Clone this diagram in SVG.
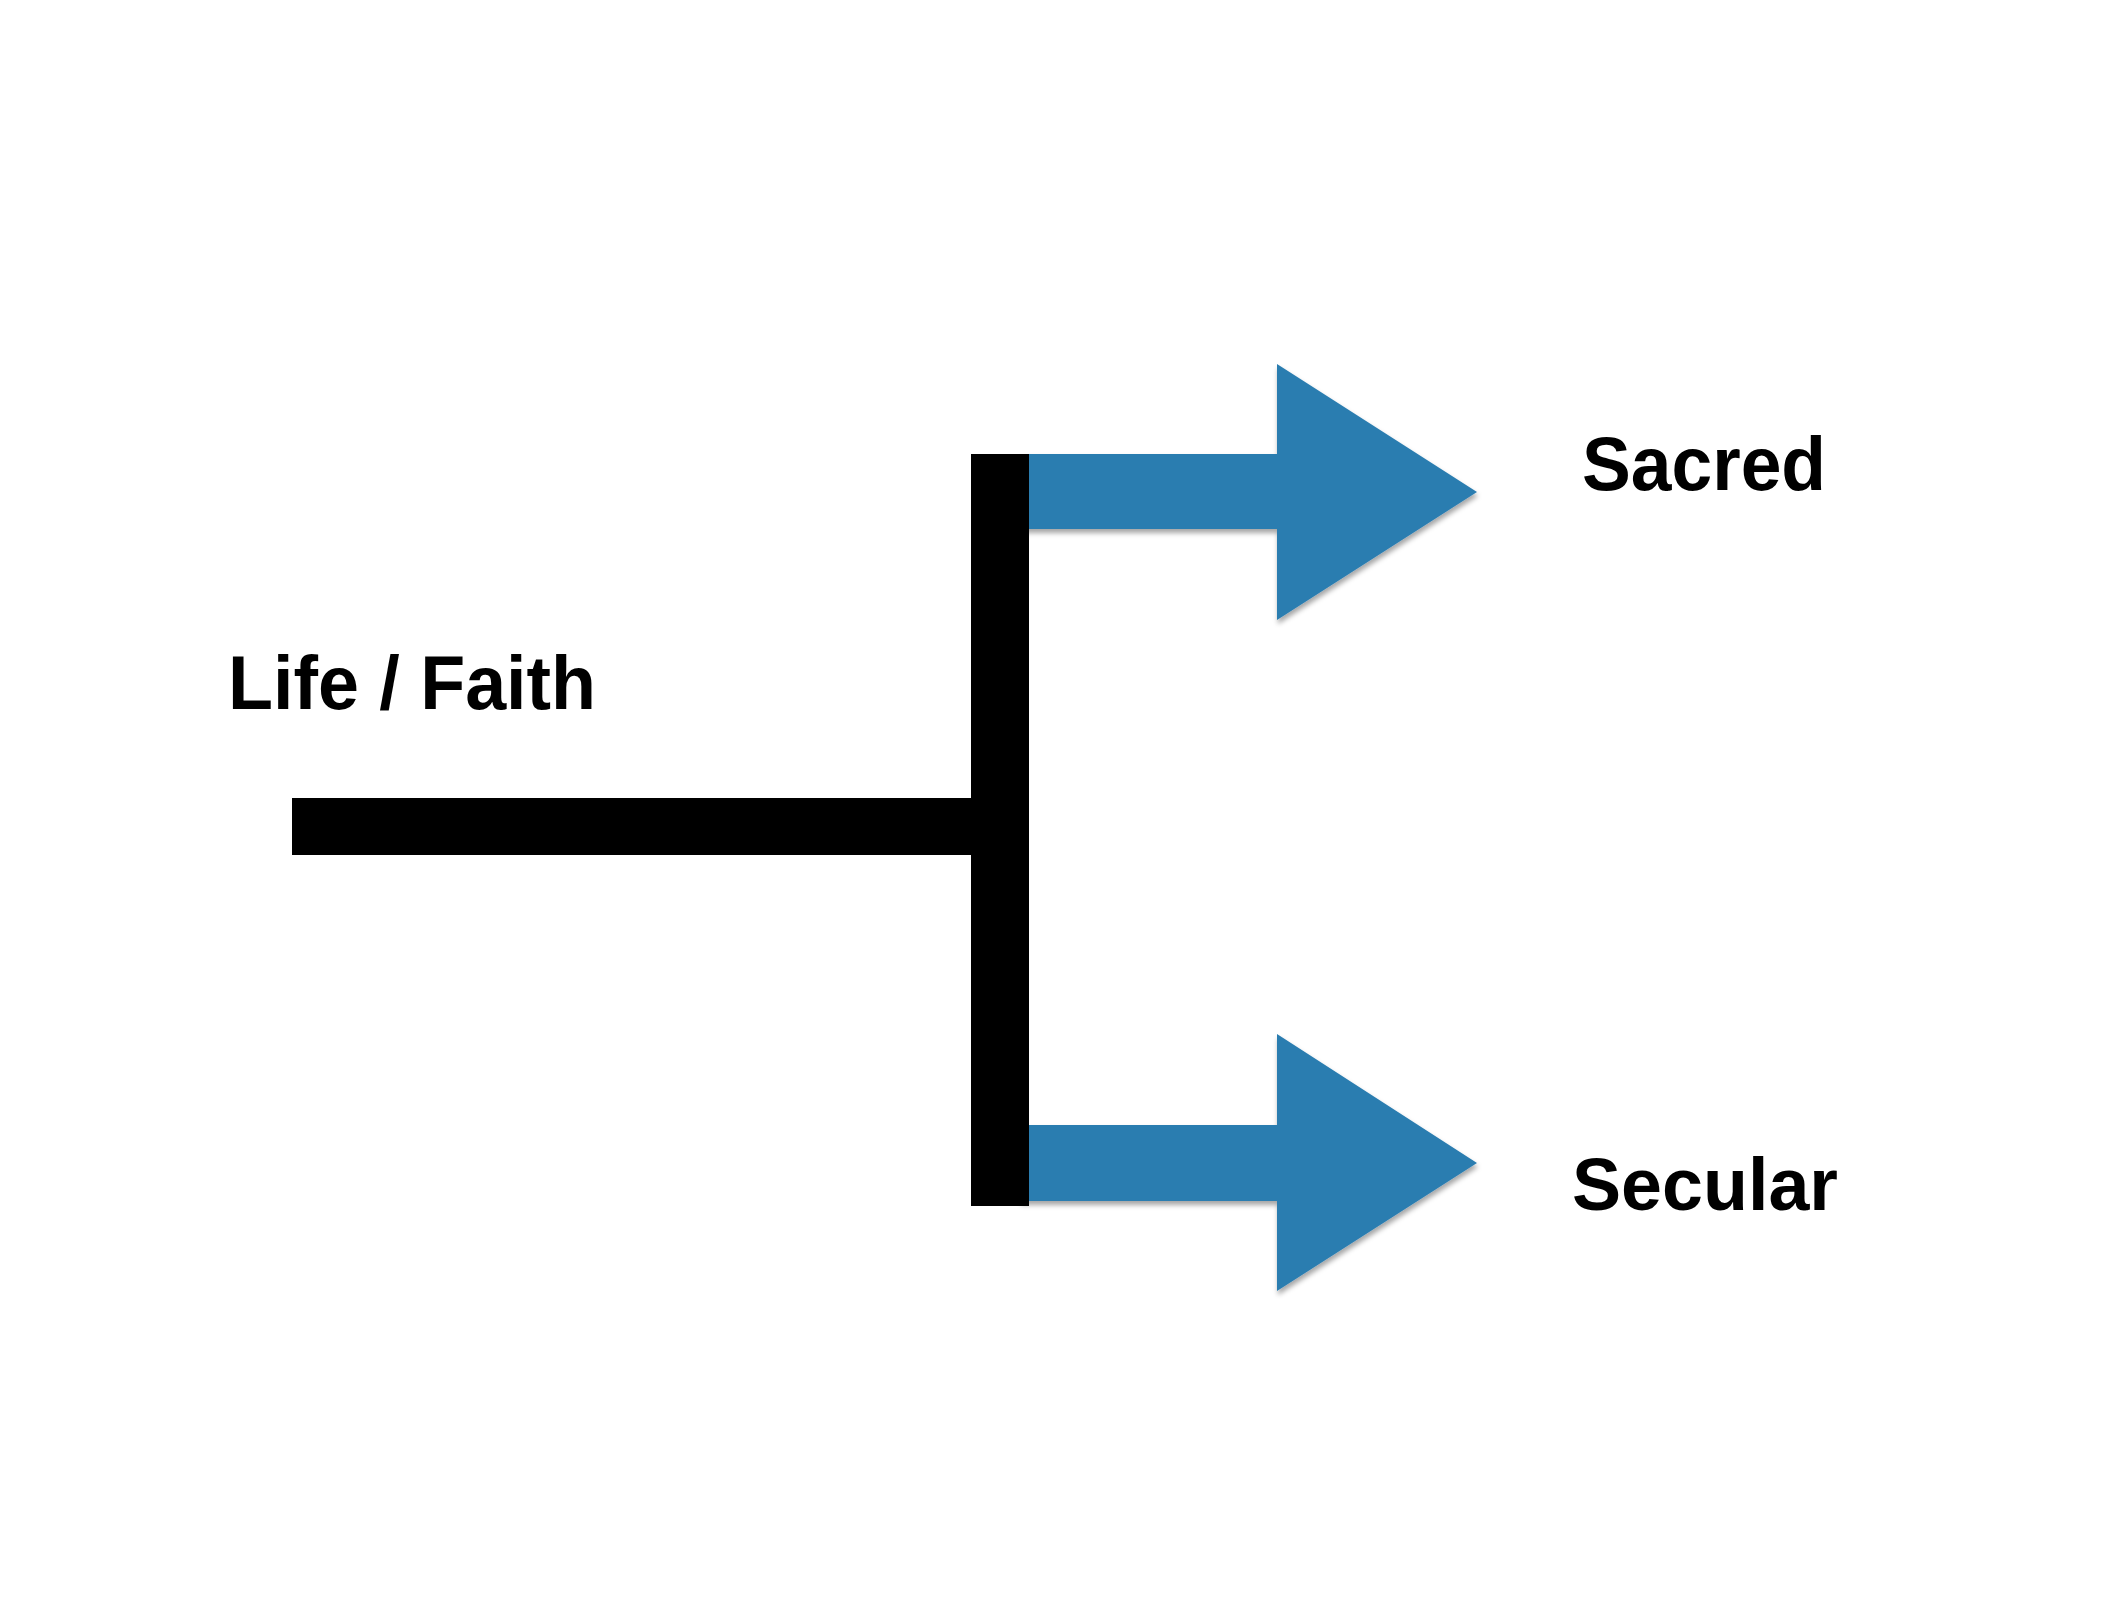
<svg xmlns="http://www.w3.org/2000/svg" width="2128" height="1598" viewBox="0 0 2128 1598">
  <style>
    .lbl { font-family: "Liberation Sans", Arial, sans-serif; font-weight: bold; fill: #000; }
    .bar { fill: #000; }
    .arrow { fill: #2c7db0; filter: url(#shadow); }
  </style>
  <defs>
    <filter id="shadow" x="-5%" y="-5%" width="115%" height="120%">
      <feDropShadow dx="1" dy="4" stdDeviation="2.5" flood-color="#000" flood-opacity="0.35"/>
    </filter>
  </defs>
  <rect width="2128" height="1598" fill="#fff"/>
  <g id="connectors">
    <path class="arrow" d="M1020,454 L1277,454 L1277,364 L1477,492 L1277,620 L1277,529 L1020,529 Z"/>
    <path class="arrow" d="M1020,1125 L1277,1125 L1277,1034 L1477,1163 L1277,1291 L1277,1201 L1020,1201 Z"/>
    <rect class="bar" x="292" y="798" width="680" height="57"/>
    <rect class="bar" x="971" y="454" width="58" height="752"/>
  </g>
  <g id="node-life-faith">
    <text class="lbl" x="228" y="709" font-size="76" textLength="368" lengthAdjust="spacingAndGlyphs">Life / Faith</text>
  </g>
  <g id="node-sacred">
    <text class="lbl" x="1582" y="490" font-size="76" textLength="244" lengthAdjust="spacingAndGlyphs">Sacred</text>
  </g>
  <g id="node-secular">
    <text class="lbl" x="1572" y="1210" font-size="75" textLength="266" lengthAdjust="spacingAndGlyphs">Secular</text>
  </g>
</svg>
